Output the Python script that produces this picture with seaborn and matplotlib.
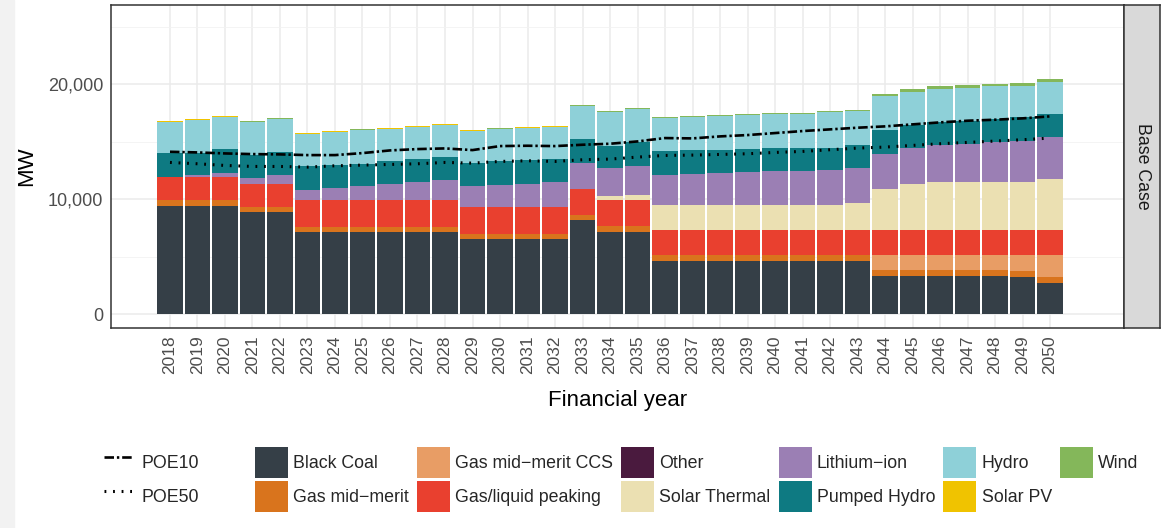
import numpy as np
import pandas as pd
import matplotlib
matplotlib.use("Agg")
import matplotlib.pyplot as plt
import seaborn as sns
from matplotlib.patches import Patch, Rectangle
from matplotlib.lines import Line2D
from matplotlib.ticker import FuncFormatter, MultipleLocator

# capacity by technology (MW), financial years 2018-2050
years = list(range(2018, 2051))

black_coal = [9435, 9435, 9435, 8854, 8854, 7141, 7141, 7141, 7141, 7141, 7141,
              6480, 6480, 6480, 6480, 8186, 7141, 7141, 4645, 4645, 4645, 4645,
              4645, 4645, 4645, 4645, 3309, 3309, 3309, 3309, 3309, 3251, 2671]
gas_mid = [490, 490, 490, 490, 490, 465, 465, 465, 465, 465, 465,
           500, 500, 500, 500, 465, 550, 550, 520, 520, 520, 520,
           520, 520, 520, 520, 520, 520, 520, 520, 520, 520, 520]
gas_ccs = [0] * 26 + [1335, 1335, 1335, 1335, 1335, 1390, 1975]
gas_peak = [1975, 1975, 1975, 1975, 1975, 2320, 2320, 2320, 2320, 2320, 2320,
            2290, 2290, 2290, 2290, 2205, 2205, 2205, 2180, 2180, 2180, 2180,
            2180, 2180, 2180, 2180, 2180, 2180, 2180, 2180, 2180, 2120, 2120]
other = [0] * 33
solar_thermal = [0] * 16 + [380, 495, 2120, 2120, 2120, 2120, 2120, 2120, 2120,
                            2290, 3540, 3975, 4150, 4150, 4150, 4210, 4470]
lithium = [0, 150, 400, 520, 755, 900, 1045, 1220, 1395, 1570, 1685,
           1860, 1975, 2060, 2175, 2295, 2380, 2495, 2610, 2730, 2785, 2875,
           2990, 2990, 3020, 3020, 3020, 3105, 3165, 3310, 3425, 3540, 3600]
pumped_hydro = [2060, 1910, 2040, 1945, 2035, 2005, 1975, 1915, 1975, 2005, 2005,
                1975, 2030, 2060, 2005, 2060, 1975, 2030, 2090, 2030, 2030, 2030,
                1975, 1975, 1945, 2005, 2090, 1975, 2005, 2005, 2030, 2060, 2005]
hydro = [2760, 2930, 2785, 2875, 2815, 2845, 2905, 2930, 2815, 2785, 2845,
         2845, 2815, 2815, 2845, 2845, 2905, 2905, 2905, 2905, 2905, 2930,
         2990, 2990, 3105, 2960, 2930, 2905, 2905, 2875, 2845, 2760, 2815]
solar_pv = [70] * 5 + [30] * 10 + [0] * 18
wind = [30] * 5 + [60] * 10 + [90] * 11 + [175, 260, 260, 230, 230, 200, 290]

poe10 = [14108, 14050, 13963, 13905, 13880, 13818, 13818, 13992, 14225, 14341, 14399,
         14254, 14602, 14631, 14602, 14718, 14805, 15008, 15299, 15270, 15444, 15560,
         15734, 15908, 16054, 16199, 16315, 16489, 16663, 16808, 16895, 17012, 17186]
poe50 = [13180, 13064, 12918, 12831, 12831, 12773, 12889, 12947, 13005, 13064, 13180,
         13122, 13267, 13325, 13267, 13412, 13470, 13644, 13789, 13818, 13876, 13934,
         14050, 14138, 14283, 14428, 14515, 14660, 14805, 14921, 15037, 15154, 15299]

techs = ["Black Coal", "Gas mid\u2212merit", "Gas mid\u2212merit CCS", "Gas/liquid peaking",
         "Other", "Solar Thermal", "Lithium\u2212ion", "Pumped Hydro", "Hydro",
         "Solar PV", "Wind"]
series = [black_coal, gas_mid, gas_ccs, gas_peak, other, solar_thermal, lithium,
          pumped_hydro, hydro, solar_pv, wind]
colors = ["#353f47", "#d9741d", "#e89d65", "#e9402f", "#4a1a3e", "#ebe0b2",
          "#9b7fb4", "#0e7a82", "#8ed0d8", "#f0c300", "#84b75a"]
palette = dict(zip(techs, colors))

df = pd.DataFrame({"year": np.tile(years, len(techs)),
                   "tech": np.repeat(techs, len(years)),
                   "MW": np.concatenate(series)})

sns.set_style("white")
plt.rcParams["font.family"] = ["Liberation Sans", "DejaVu Sans"]

fig = plt.figure(figsize=(11.65, 5.28), dpi=100)
fig.patches.append(Rectangle((0, 0), 14 / 1165, 1, transform=fig.transFigure,
                             color="#f2f2f2", zorder=-1))
ax = fig.add_axes([111 / 1165, 1 - 328 / 528, 1013 / 1165, 323 / 528])

# stacked bars (histplot stacks the last hue level at the bottom)
sns.histplot(data=df, x="year", weights="MW", hue="tech", hue_order=techs[::-1],
             multiple="stack", discrete=True, shrink=0.92, palette=palette,
             element="bars", linewidth=0, alpha=1, legend=False, ax=ax, zorder=2)

dashdot = (0, (3.6, 1.1, 0.9, 1.1))
dotted = (0, (0.6, 2.2))
sns.lineplot(x=years, y=poe10, color="black", lw=1.9, linestyle=dashdot, ax=ax, zorder=3)
sns.lineplot(x=years, y=poe50, color="black", lw=2.2, linestyle=dotted, ax=ax, zorder=3)

ax.set_xlim(2015.855, 2052.69)
ax.set_ylim(-1217, 26870)
ax.set_xticks(years)
ax.set_xticklabels([str(y) for y in years], rotation=90)
ax.set_yticks([0, 10000, 20000])
ax.yaxis.set_minor_locator(MultipleLocator(5000))
ax.yaxis.set_major_formatter(FuncFormatter(lambda v, p: f"{int(v):,}"))
ax.grid(True, which="major", color="#ebebeb", lw=1.1, zorder=0)
ax.grid(True, which="minor", axis="y", color="#f2f2f2", lw=0.6, zorder=0)
ax.set_axisbelow(True)
ax.tick_params(axis="both", which="major", length=3.5, width=1.1, color="#333333",
               labelcolor="#4d4d4d", pad=2)
ax.tick_params(axis="x", labelsize=12.5)
ax.tick_params(axis="y", labelsize=13)
ax.tick_params(which="minor", length=0)
for s in ax.spines.values():
    s.set_color("#333333")
    s.set_linewidth(1.1)
ax.set_xlabel("Financial year", fontsize=16, color="black", labelpad=11)
ax.set_ylabel("MW", fontsize=16, color="black", labelpad=8)

# facet strip
strip = fig.add_axes([1124 / 1165, 1 - 328 / 528, 36 / 1165, 323 / 528])
strip.set_facecolor("#d9d9d9")
strip.set_xticks([])
strip.set_yticks([])
for s in strip.spines.values():
    s.set_color("#333333")
    s.set_linewidth(1.1)
strip.text(0.5, 0.5, "Base Case", rotation=-90, ha="center", va="center",
           fontsize=12.8, color="#1a1a1a", transform=strip.transAxes)

# legends
line_handles = [Line2D([], [], color="black", lw=1.9, linestyle=dashdot),
                Line2D([], [], color="black", lw=2.2, linestyle=dotted)]
fig.legend(line_handles, ["POE10", "POE50"], loc="upper left",
           bbox_to_anchor=(104 / 1165, 1 - 447 / 528), frameon=False, fontsize=12.8,
           handlelength=1.7, handleheight=2.3, handletextpad=0.4, labelspacing=0.17,
           borderpad=0, borderaxespad=0)
fill_handles = [Patch(facecolor=c, edgecolor="none") for c in colors]
fig.legend(fill_handles, techs, loc="upper left", ncol=6,
           bbox_to_anchor=(255 / 1165, 1 - 447 / 528), frameon=False, fontsize=12.8,
           handlelength=1.85, handleheight=2.3, handletextpad=0.3, labelspacing=0.17,
           columnspacing=0.45, borderpad=0, borderaxespad=0)

fig.savefig("out.png", dpi=100)
